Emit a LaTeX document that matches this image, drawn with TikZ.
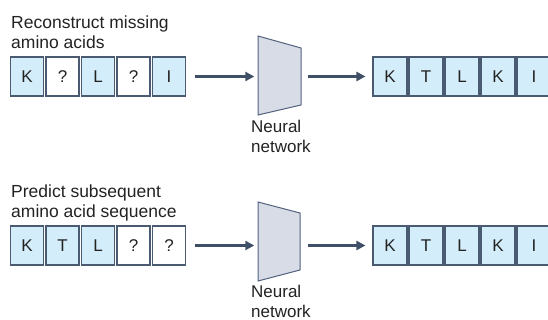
\documentclass[tikz,border=0pt]{standalone}
\usepackage{fontspec}
\setmainfont{Liberation Sans}
\usetikzlibrary{arrows.meta}
\definecolor{boxfill}{HTML}{D4EDFA}
\definecolor{boxline}{HTML}{4A5A70}
\definecolor{arrcol}{HTML}{3F4F66}
\definecolor{netfill}{HTML}{D8DCE6}
\definecolor{netline}{HTML}{52627D}
\definecolor{txt}{HTML}{222222}
\tikzset{
  aa/.style={draw=boxline, line width=1.1pt, minimum height=39pt, inner sep=0pt, text=txt, font=\fontsize{17}{20}\selectfont},
  filled/.style={aa, fill=boxfill},
  blank/.style={aa, fill=white},
  lbl/.style={anchor=north west, inner sep=0pt, align=left, text=txt, font=\fontsize{17.5}{20.5}\selectfont},
  netshape/.style={draw=netline, fill=netfill, line width=1pt, line join=miter},
  arr/.style={draw=arrcol, line width=2.6pt, -{Triangle[length=9pt,width=9pt]}},
}
\begin{document}
\begin{tikzpicture}[x=1pt,y=-1pt]
\useasboundingbox (0,0) rectangle (548,320);
\clip (0,0) rectangle (548,320);
% ---------- top row ----------
\node[lbl] (t1) at (11,15.5) {Reconstruct missing\\amino acids};
\foreach \i/\x/\l/\s in {1/10.5/K/filled, 2/46/?/blank, 3/81.5/L/filled, 4/117/?/blank, 5/152.5/I/filled}
  \node[\s, minimum width=33pt] (a\i) at (\x+16.5,76.5) {\l};
\node[inner sep=0pt, minimum width=42pt, minimum height=56pt] (n1) at (279,76.5) {};
\path[netshape] (258,36) -- (301,48) -- (301,105) -- (258,115) -- cycle;
\node[lbl, font=\fontsize{17}{19.5}\selectfont] (nl1) at (251,120) {Neural\\network};
\foreach \i/\x/\l in {1/373/K, 2/409/T, 3/445/L, 4/481/K, 5/517/I}
  \node[filled, minimum width=34pt] (b\i) at (\x+17,76.5) {\l};
\draw[arr, shorten <=8.5pt, shorten >=3.5pt] (a5.east) -- (n1.west);
\draw[arr, shorten <=8pt, shorten >=7pt] (n1.east) -- (b1.west);
% ---------- bottom row ----------
\node[lbl] (t2) at (11,184.5) {Predict subsequent\\amino acid sequence};
\foreach \i/\x/\l/\s in {1/10.5/K/filled, 2/46/T/filled, 3/81.5/L/filled, 4/117/?/blank, 5/152.5/?/blank}
  \node[\s, minimum width=33pt] (c\i) at (\x+16.5,245.5) {\l};
\node[inner sep=0pt, minimum width=42pt, minimum height=56pt] (n2) at (279,245.5) {};
\path[netshape] (258,202) -- (300,213) -- (300,270) -- (258,281) -- cycle;
\node[lbl, font=\fontsize{17}{19.5}\selectfont] (nl2) at (251,285) {Neural\\network};
\foreach \i/\x/\l in {1/373/K, 2/409/T, 3/445/L, 4/481/K, 5/517/I}
  \node[filled, minimum width=34pt] (d\i) at (\x+17,245.5) {\l};
\draw[arr, shorten <=8.5pt, shorten >=3.5pt] (c5.east) -- (n2.west);
\draw[arr, shorten <=8pt, shorten >=7pt] (n2.east) -- (d1.west);
\end{tikzpicture}
\end{document}
